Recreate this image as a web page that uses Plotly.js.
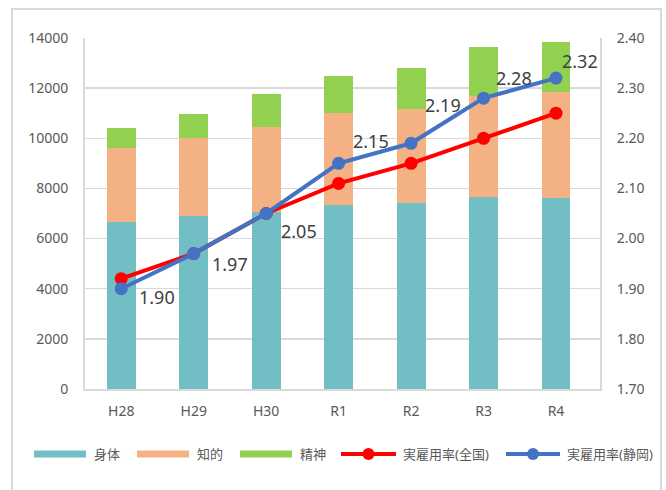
<!DOCTYPE html>
<html><head><meta charset="utf-8">
<script src="https://cdn.plot.ly/plotly-3.0.1.min.js"></script>
<style>html,body{margin:0;padding:0;background:#fff}</style>
</head><body><div id="chart" style="width:666px;height:490px"></div>
<script>
const categories = ["H28","H29","H30","R1","R2","R3","R4"];
const bodyValues = [6650,6900,7050,7350,7400,7650,7600];
const intellectualValues = [2950,3100,3400,3650,3750,4050,4250];
const mentalValues = [800,950,1300,1500,1650,1950,2000];
const rateNational = [1.92,1.97,2.05,2.11,2.15,2.20,2.25];
const rateShizuoka = [1.90,1.97,2.05,2.15,2.19,2.28,2.32];
const seriesNames = ["身体","知的","精神","実雇用率(全国)","実雇用率(静岡)"];

const colors = ["#72BEC5","#F4B183","#92D050","#FF0000","#4472C4"];
// label offsets (px) for the Shizuoka data labels
const labelDx = [36,36,33,32,32,30,24];
const labelDy = [8,10,17,-22,-38,-20,-17];
const FONT = "Noto Sans, Noto Sans CJK JP, sans-serif";

const L = 85, R = 600, T = 38, B = 389, W = 666, H = 490;
const px = x => (x - L) / (R - L);
const py = y => (B - y) / (B - T);

const traces = [
  {type:"bar", x:categories, y:bodyValues, name:seriesNames[0], marker:{color:colors[0]}, width:0.4, showlegend:false},
  {type:"bar", x:categories, y:intellectualValues, name:seriesNames[1], marker:{color:colors[1]}, width:0.4, showlegend:false},
  {type:"bar", x:categories, y:mentalValues, name:seriesNames[2], marker:{color:colors[2]}, width:0.4, showlegend:false},
  {type:"scatter", mode:"lines+markers", x:categories, y:rateNational, yaxis:"y2", name:seriesNames[3],
   line:{color:colors[3], width:4}, marker:{color:colors[3], size:13}, showlegend:false},
  {type:"scatter", mode:"lines+markers", x:categories, y:rateShizuoka, yaxis:"y2", name:seriesNames[4],
   line:{color:colors[4], width:4}, marker:{color:colors[4], size:13}, showlegend:false}
];

const shapes = [
  {type:"rect", xref:"paper", yref:"paper", x0:px(12), x1:px(661), y0:py(9), y1:py(500),
   line:{color:"#d9d9d9", width:2}, fillcolor:"rgba(0,0,0,0)", layer:"below"}
];
const annotations = [];

// data labels for Shizuoka series
categories.forEach((c, i) => {
  annotations.push({x:c, y:rateShizuoka[i], xref:"x", yref:"y2", text:rateShizuoka[i].toFixed(2),
    showarrow:false, xanchor:"center", yanchor:"middle", xshift:labelDx[i], yshift:-labelDy[i],
    font:{size:18, color:"#404040", family:FONT}});
});

// custom legend
const legendY = 454;
const legendItems = [
  {kind:"bar", x0:34, x1:86, tx:92},
  {kind:"bar", x0:137, x1:189, tx:195},
  {kind:"bar", x0:240, x1:292, tx:298},
  {kind:"line", x0:341, x1:396, tx:401},
  {kind:"line", x0:506, x1:560, tx:565}
];
legendItems.forEach((it, i) => {
  if (it.kind === "bar") {
    shapes.push({type:"rect", xref:"paper", yref:"paper", x0:px(it.x0), x1:px(it.x1),
      y0:py(legendY+3.5), y1:py(legendY-3.5), fillcolor:colors[i], line:{width:0}});
  } else {
    shapes.push({type:"line", xref:"paper", yref:"paper", x0:px(it.x0), x1:px(it.x1),
      y0:py(legendY), y1:py(legendY), line:{color:colors[i], width:4}});
    const cx = (it.x0 + it.x1) / 2;
    shapes.push({type:"circle", xref:"paper", yref:"paper", x0:px(cx-6), x1:px(cx+6),
      y0:py(legendY+6), y1:py(legendY-6), fillcolor:colors[i], line:{width:0}});
  }
  annotations.push({xref:"paper", yref:"paper", x:px(it.tx), y:py(legendY), xanchor:"left", yanchor:"middle",
    text:seriesNames[i], showarrow:false, font:{size:13, color:"#595959", family:FONT}});
});

const layout = {
  width:W, height:H,
  margin:{l:L, r:W-R, t:T, b:H-B, pad:0},
  paper_bgcolor:"#fff", plot_bgcolor:"#fff",
  barmode:"stack", bargap:0.6,
  font:{family:FONT, color:"#595959", size:14},
  showlegend:false,
  xaxis:{type:"category", showgrid:false, showline:true, linecolor:"#d9d9d9", linewidth:2,
    ticks:"", tickfont:{size:14, color:"#595959"}, ticklabelstandoff:8, fixedrange:true},
  yaxis:{range:[0,14000], dtick:2000, showgrid:true, gridcolor:"#d9d9d9", gridwidth:1.5,
    showline:true, linecolor:"#d9d9d9", linewidth:2, zeroline:false, ticks:"",
    tickfont:{size:14, color:"#595959"}, ticklabelstandoff:12, tickformat:"d"},
  yaxis2:{overlaying:"y", side:"right", range:[1.7,2.4], dtick:0.1, tickformat:".2f",
    showgrid:false, showline:true, linecolor:"#d9d9d9", linewidth:2, zeroline:false, ticks:"",
    tickfont:{size:14, color:"#595959"}, ticklabelstandoff:12},
  shapes:shapes,
  annotations:annotations
};

Plotly.newPlot("chart", traces, layout, {displayModeBar:false, staticPlot:true});
</script>
</body></html>
